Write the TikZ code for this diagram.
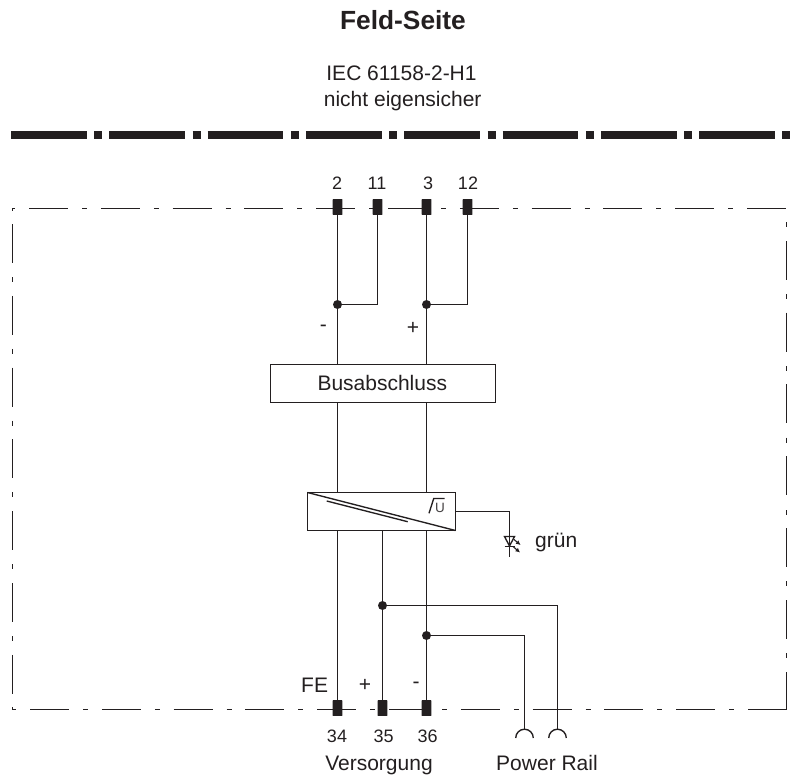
\documentclass[tikz,border=0pt]{standalone}
\usepackage{fontspec}
\setmainfont{Liberation Sans}
\usetikzlibrary{arrows.meta}
\definecolor{ink}{RGB}{35,31,32}
\tikzset{
  x=1pt,y=-1pt,
  wire/.style={draw=ink,line width=1.35pt},
  frameline/.style={draw=ink,line width=1.4pt},
  heavy/.style={draw=ink,line width=7.6pt,dash pattern=on 75.7pt off 7.6pt on 8pt off 7pt},
  dd/.style={frameline,dash pattern=on 39pt off 14pt on 5pt off 13.8pt},
  terminal/.style={fill=ink,draw=none,minimum width=9.8pt,minimum height=15.7pt,inner sep=0pt,rounded corners=0.5pt},
  junction/.style={circle,fill=ink,draw=none,minimum size=9pt,inner sep=0pt},
  box/.style={draw=ink,line width=1.35pt,fill=white,inner sep=0pt,outer sep=0pt,anchor=north west},
  lab/.style={text=ink,inner sep=0pt,font=\fontsize{21pt}{26pt}\selectfont,align=center},
  num/.style={text=ink,inner sep=0pt,font=\fontsize{18pt}{20pt}\selectfont},
  ledarrow/.style={draw=ink,line width=1.1pt,-{Latex[length=4.5pt,width=4.5pt]}},
}
\begin{document}
\begin{tikzpicture}
\useasboundingbox (0,0) rectangle (791,776);
% title
\node[text=ink,inner sep=0pt,font=\bfseries\fontsize{26.3pt}{30pt}\selectfont,anchor=base] (title) at (403,30) {Feld-Seite};
\node[lab,anchor=base] (sub1) at (401.5,80) {IEC 61158-2-H1};
\node[lab,anchor=base] (sub2) at (402.7,106) {nicht eigensicher};
% heavy line
\coordinate (hl) at (11,135); \coordinate (hr) at (791,135);
\draw[heavy] (hl) -- (hr);
% frame
\coordinate (tl) at (29,208.5); \coordinate (tr) at (786.5,208.5);
\coordinate (bl) at (30,709.5); \coordinate (br) at (786.5,709.5);
\draw[dd] (tl) -- (tr);
\draw[dd] (bl) -- (br);
\draw[dd] (12.5,224) -- (12.5,694);
\draw[frameline] (786.5,672) -- (br);
\draw[frameline] (12.5,208) -- (12.5,211) (12,208.5) -- (15,208.5);
\draw[frameline] (12,709.5) -- (16,709.5);
\draw[frameline] (12.5,707) -- (12.5,709.5);
\foreach \s in {241,312.6,384.4,456.2,528,600}{\draw[frameline] (786.5,\s) -- +(0,39);}
\foreach \s in {222,294,366,437.5,510,581,653}{\draw[frameline] (786.5,\s) -- +(0,5);}
% terminals
\node[terminal] (t2) at (337.5,207) {};
\node[terminal] (t11) at (377.5,207) {};
\node[terminal] (t3) at (426.5,207) {};
\node[terminal] (t12) at (467.5,207) {};
\node[terminal] (t34) at (337.5,708) {};
\node[terminal] (t35) at (382.5,708) {};
\node[terminal] (t36) at (426.5,708) {};
\node[num] at (337,183) {2};
\node[num] at (377,183) {11};
\node[num] at (428,183) {3};
\node[num] at (468,183) {12};
\node[num] at (337,736.7) {34};
\node[num] at (383.7,736.7) {35};
\node[num] at (427.7,736.7) {36};
\node[lab,anchor=base] at (379,770.5) {Versorgung};
\node[lab,anchor=base] at (547,770) {Power Rail};
% boxes
\node[box,minimum width=225pt,minimum height=38pt] (bus) at (270.5,364.5) {};
\node[lab,anchor=base] at (382.3,390.7) {Busabschluss};
\node[box,minimum width=148pt,minimum height=38pt] (conv) at (307.5,492.5) {};
\draw[wire] (conv.north west) -- (conv.south east);
\draw[wire] (326.7,501) -- (407.7,521.7);
% /U
\draw[wire] (429,513.3) -- (433.7,498.5) -- (444.5,498.5);
\node[text=ink!85,inner sep=0pt,font=\fontsize{13.5pt}{14pt}\selectfont] (u) at (440,508) {U};
% junctions
\node[junction] (j1) at (337.5,304.5) {};
\node[junction] (j2) at (426.5,304.5) {};
\node[junction] (j3) at (382.5,605.5) {};
\node[junction] (j4) at (426.5,635.5) {};
% wires
\draw[wire] (t2) -- (j1) -- (j1 |- bus.north);
\draw[wire] (t11) |- (j1);
\draw[wire] (t3) -- (j2) -- (j2 |- bus.north);
\draw[wire] (t12) |- (j2);
\draw[wire] (j1 |- bus.south) -- (j1 |- conv.north);
\draw[wire] (j2 |- bus.south) -- (j2 |- conv.north);
\draw[wire] (t34 |- conv.south) -- (t34);
\draw[wire] (j3 |- conv.south) -- (j3) -- (t35);
\draw[wire] (j4 |- conv.south) -- (j4) -- (t36);
\coordinate (pa) at (524.5,730);
\coordinate (pb) at (557.5,730);
\draw[wire] (j4) -| (pa);
\draw[wire] (j3) -| (pb);
\draw[wire] (515.7,738) arc[start angle=180,end angle=360,radius=8.8];
\draw[wire] (548.7,738) arc[start angle=180,end angle=360,radius=8.8];
% LED
\coordinate (lb) at (509.5,557);
\draw[wire] (conv.east) -| (lb);
\draw[wire,line join=miter] (504.5,536.5) -- (514.5,536.5) -- (509.5,546) -- cycle;
\draw[wire] (504.5,546.5) -- (514.5,546.5);
\draw[ledarrow] (514,539.5) -- (520.5,545);
\draw[ledarrow] (513,546.5) -- (520,552.5);
\node[lab,anchor=base west] at (535,547) {grün};
% signs
\node[lab] at (323.3,328.7) {-};
\node[lab] at (413,328.7) {+};
\node[lab,anchor=base west] at (301,692.7) {FE};
\node[lab] at (365,685.7) {+};
\node[lab] at (416,685.7) {-};
\end{tikzpicture}
\end{document}
